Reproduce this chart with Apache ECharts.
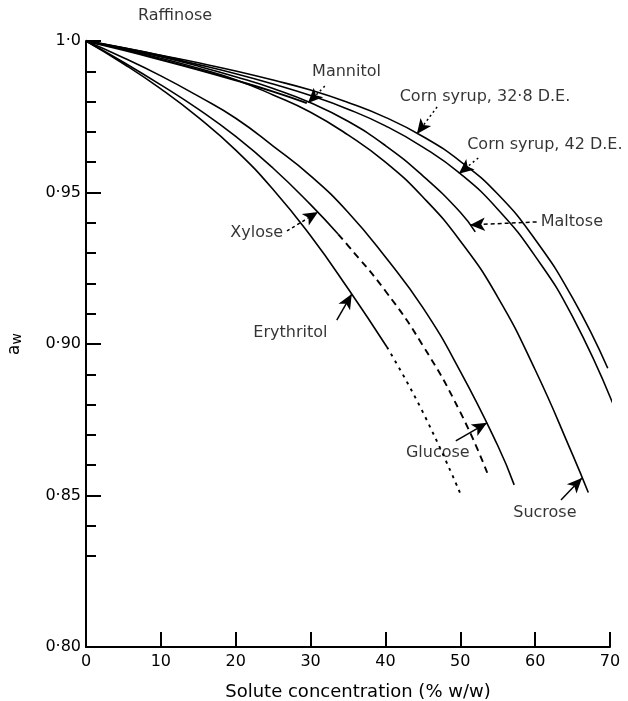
<!DOCTYPE html>
<html><head><meta charset="utf-8">
<script src="https://cdn.jsdelivr.net/npm/echarts@6/dist/echarts.min.js"></script>
</head>
<body style="margin:0;background:#fff">
<div id="c" style="width:628px;height:701px"></div>
<script>
// ---- data (solute concentration % w/w, water activity) ----
const raffinose    = [[0,1],[5,0.9976],[10,0.9951],[13,0.9935]];
const mannitol     = [[0,1],[5,0.997],[10,0.9938],[15,0.9905],[20,0.987],[25,0.9833],[29.5,0.9795]];
const cornSyrup328 = [[0,1],[5,0.9978],[10,0.9953],[15,0.9928],[20,0.9901],[25,0.9871],[30,0.9838],[35,0.9797],[40,0.9748],[45,0.9685],[50,0.9603],[55,0.9495],[60,0.9345],[65,0.9152],[69.7,0.892]];
const cornSyrup42  = [[0,1],[5,0.9976],[10,0.995],[15,0.9922],[20,0.9892],[25,0.9858],[30,0.982],[35,0.9775],[40,0.972],[45,0.965],[50,0.9562],[55,0.9445],[60,0.929],[65,0.909],[70.6,0.879]];
const maltose      = [[0,1],[5,0.9975],[10,0.9948],[15,0.9917],[20,0.9882],[25,0.9843],[30,0.9796],[35,0.9735],[40,0.9655],[45,0.9555],[50,0.9435],[52,0.937]];
const sucrose      = [[0,1],[5,0.9973],[10,0.9943],[15,0.991],[20,0.9872],[25,0.9822],[30,0.9765],[35,0.969],[40,0.96],[45,0.9485],[50,0.934],[55,0.9155],[60,0.8915],[65,0.8635],[67.1,0.851]];
const glucose      = [[0,1],[5,0.9945],[10,0.9885],[15,0.9818],[20,0.9745],[25,0.9653],[30,0.9555],[35,0.9435],[40,0.9287],[45,0.912],[50,0.891],[55,0.8665],[57.2,0.8535]];
const xylose       = [[0,1],[5,0.993],[10,0.9855],[15,0.9775],[20,0.9685],[25,0.958],[30,0.946],[33.7,0.9362]];
const xyloseExt    = [[33.7,0.9362],[35,0.9325],[40,0.9175],[45,0.8995],[50,0.8775],[53.6,0.8575]];
const erythritol   = [[0,1],[5,0.9925],[10,0.9842],[15,0.9748],[20,0.964],[25,0.951],[30,0.9357],[35,0.9183],[40.2,0.899]];
const erythritolExt= [[40.2,0.899],[45,0.8775],[50.2,0.8495]];

const xTickLabels = ['0','10','20','30','40','50','60','70'];
const yTickLabels = ['0·80','0·85','0·90','0·95','1·0'];
const yMinorTicks = [0.99,0.98,0.97,0.96,0.94,0.93,0.92,0.91,0.89,0.88,0.87,0.86,0.84,0.83];

// label annotations: text position, leader tail, arrow tip (data coords)
const labelNames = ['Raffinose','Mannitol','Corn syrup, 32·8 D.E.','Corn syrup, 42 D.E.','Maltose','Xylose','Erythritol','Glucose','Sucrose'];
const labelPos   = [[11.9,1.0083],[34.8,0.9898],[53.3,0.9815],[61.3,0.9657],[64.9,0.9403],[22.8,0.9366],[27.3,0.9036],[47.0,0.864],[61.3,0.8442]];
const leaderTail = [[14.16,1.005],[31.9,0.9851],[46.9,0.9782],[52.4,0.9614],[60.2,0.9403],[26.85,0.9373],[33.5,0.9079],[49.4,0.868],[63.45,0.8485]];
const leaderTip  = [[10.5,0.9962],[29.65,0.9795],[44.2,0.9693],[49.8,0.9562],[51.3,0.9393],[31.0,0.9436],[35.5,0.9165],[53.57,0.874],[66.26,0.8558]];
const leaderType = ['solid',[2,3],[2,3],[2,3],[4,3],[3,3],'solid','solid','solid'];

const FONT = 'DejaVu Sans';
const INK = '#000';

function curve(name, data, type, width) {
  return {
    name, type: 'line', data, smooth: 0.5, showSymbol: false, symbol: 'none',
    lineStyle: { color: INK, width: width || 1.6, type: type || 'solid' },
    clip: false, silent: true, animation: false, z: 3
  };
}

const arrows = labelNames.map((n, i) => {
  const ls = { color: INK, width: 1.5, type: leaderType[i] };
  return [
    { coord: leaderTail[i], symbol: 'none', lineStyle: ls },
    { coord: leaderTip[i], symbol: 'arrow', symbolSize: [10, 15], lineStyle: ls }
  ];
});

const chart = echarts.init(document.getElementById('c'), null, { renderer: 'canvas' });
chart.setOption({
  animation: false,
  backgroundColor: '#fff',
  grid: { left: 86, right: 18, top: 41, bottom: 54, containLabel: false, outerBoundsMode: 'none' },
  xAxis: {
    type: 'value', min: 0, max: 70, interval: 10,
    axisLine: { show: true, lineStyle: { color: INK, width: 2 } },
    axisTick: { show: true, inside: true, length: 15, lineStyle: { color: INK, width: 2 } },
    axisLabel: { color: INK, fontFamily: FONT, fontSize: 16, margin: 7,
      formatter: (v) => xTickLabels[Math.round(v / 10)] },
    splitLine: { show: false },
    name: 'Solute concentration (% w/w)', nameLocation: 'middle', nameGap: 36,
    nameTextStyle: { color: INK, fontFamily: FONT, fontSize: 18, padding: [0, 0, 0, 20] }
  },
  yAxis: [{
    type: 'value', min: 0.8, max: 1.0, interval: 0.05,
    axisLine: { show: true, lineStyle: { color: INK, width: 2 } },
    axisTick: { show: true, inside: true, length: 15, lineStyle: { color: INK, width: 2 } },
    axisLabel: { color: INK, fontFamily: FONT, fontSize: 16, margin: 5,
      formatter: (v) => yTickLabels[Math.round((v - 0.8) / 0.05)] },
    splitLine: { show: false },
    name: '{a|a}{w|w}', nameLocation: 'middle', nameGap: 62, nameRotate: 90,
    nameTextStyle: { rich: { a: { fontFamily: FONT, fontSize: 17, color: INK }, w: { fontFamily: FONT, fontSize: 14, color: INK, padding: [5, 0, 0, 0] } } }
  }, {
    type: 'value', min: 0.8, max: 1.0, position: 'left', offset: 0,
    axisLine: { show: false },
    axisTick: { show: true, inside: true, length: 10, customValues: yMinorTicks, lineStyle: { color: INK, width: 2 } },
    axisLabel: { show: false },
    splitLine: { show: false }
  }],
  series: [
    curve('Raffinose', raffinose, 'solid', 2.4),
    curve('Mannitol', mannitol, 'solid', 2),
    curve('Corn syrup, 32·8 D.E.', cornSyrup328),
    curve('Corn syrup, 42 D.E.', cornSyrup42),
    curve('Maltose', maltose),
    curve('Sucrose', sucrose),
    curve('Glucose', glucose),
    curve('Xylose', xylose),
    curve('Xylose (extrapolated)', xyloseExt, [7, 5], 1.9),
    curve('Erythritol', erythritol),
    curve('Erythritol (extrapolated)', erythritolExt, [3, 5], 1.9),
    {
      name: 'labels', type: 'scatter', symbolSize: 0, clip: false, silent: true, z: 5,
      data: labelNames.map((n, i) => [labelPos[i][0], labelPos[i][1], n]),
      label: { show: true, position: 'inside', formatter: (p) => p.data[2],
        color: INK, fontFamily: FONT, fontSize: 16 },
      markLine: { silent: true, symbol: ['none', 'arrow'], label: { show: false },
        lineStyle: { color: INK, width: 1.5 }, itemStyle: { color: INK }, data: arrows }
    }
  ]
});
</script>
</body></html>
